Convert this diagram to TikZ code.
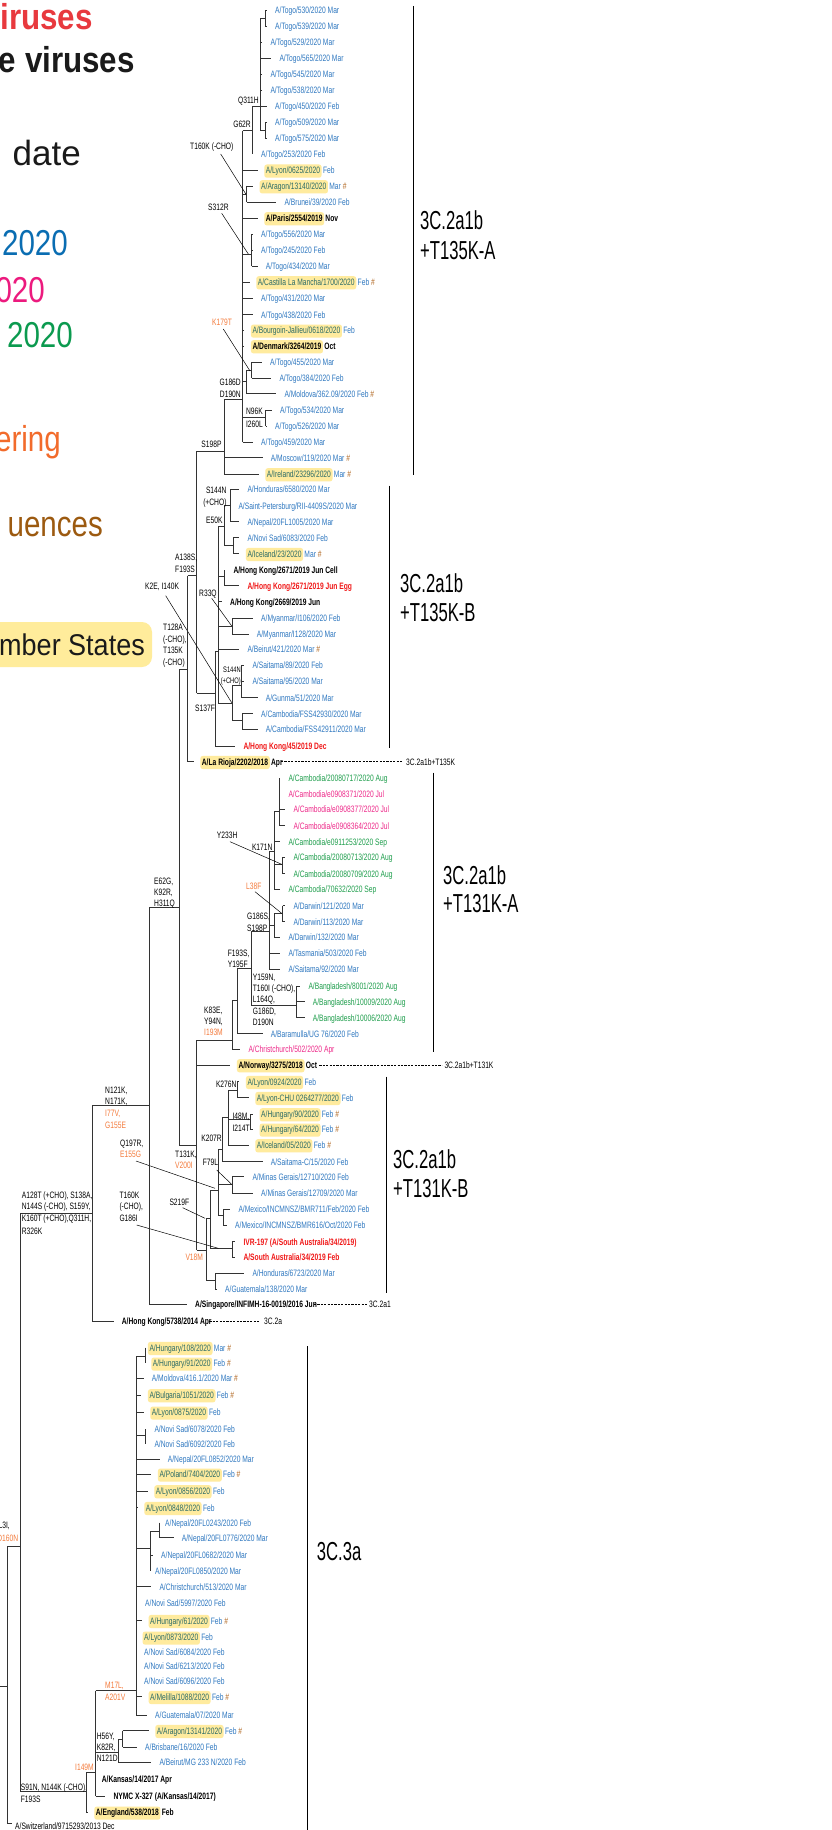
\documentclass[tikz,border=0pt]{standalone}
\usepackage{fontspec}
\setmainfont{Liberation Sans}
\newfontfamily\nar[FakeStretch=0.72]{Liberation Sans}
\newfontfamily\clf[FakeStretch=0.64]{Liberation Sans}
\newfontfamily\lgf[FakeStretch=0.82]{Liberation Sans}
\newfontfamily\lgb[FakeStretch=0.87]{Liberation Sans Bold}
\newfontfamily\lgs[FakeStretch=0.9]{Liberation Sans}
\definecolor{lblue}{HTML}{2F78C0}
\definecolor{lpink}{HTML}{EE2A8A}
\definecolor{lgreen}{HTML}{1E9E4C}
\definecolor{lred}{HTML}{F01818}
\definecolor{mor}{HTML}{F47B3C}
\definecolor{hashc}{HTML}{B0651E}
\definecolor{hly}{HTML}{FFEB9E}
\definecolor{hlc}{HTML}{2A6A66}
\definecolor{gred}{HTML}{E8393E}
\definecolor{gblue}{HTML}{0A6DB2}
\definecolor{gpink}{HTML}{EC1A7E}
\definecolor{ggreen}{HTML}{0B9A4F}
\definecolor{gorange}{HTML}{F26B2B}
\definecolor{gbrown}{HTML}{9C5A10}
\definecolor{gyel}{HTML}{FFEC9B}
\definecolor{gk}{HTML}{1A1A1A}
\newcommand\hs{\textcolor{hashc}{\#}}
\newcommand\OR[1]{\textcolor{mor}{#1}}
\tikzset{
 br/.style={draw=black!80,line width=0.75pt},
 cbar/.style={draw=black,line width=1.1pt},
 ptr/.style={draw=black,line width=0.5pt},
 dsh/.style={draw=black,line width=0.45pt,dash pattern=on 2.2pt off 1.2pt},
 lt/.style={inner sep=0pt,anchor=base west,font=\nar\fontsize{9.3}{11}\selectfont},
 ltb/.style={lt,font=\nar\bfseries\fontsize{9.3}{11}\selectfont},
 hlb/.style={fill=hly,rounded corners=2.5pt,inner xsep=1.6pt,inner ysep=2.2pt,text height=6.9pt,text depth=1.9pt},
 lg/.style={inner sep=0pt,anchor=base east,font=\lgf\fontsize{36}{40}\selectfont},
 lgbold/.style={inner sep=0pt,anchor=base east,font=\lgb\fontsize{36}{40}\selectfont},
 cl/.style={inner sep=0pt,anchor=base west,font=\clf\fontsize{26}{30}\selectfont},
}
\newcommand\hbr[3]{\draw[br] (#1,#3) -- (#2,#3);}
\newcommand\vbr[3]{\draw[br] (#1,#2) -- (#1,#3);}
\newcommand\lfline[3]{\pgfmathsetmacro\lfend{#3-8}\pgfmathtruncatemacro\lfok{\lfend>#1+1}\ifnum\lfok=1 \draw[br] (#1,#2) -- (\lfend,#2);\fi}
\newcommand\lf[5][lblue]{\lfline{#2}{#3}{#4}\node[lt,text=#1] at (#4,{#3+3.3}) {#5};}
\newcommand\hlf[5]{\lfline{#1}{#2}{#3}\node[lt,hlb,text=hlc] (hx) at ({#3-1.6},{#2+3.3}) {#4};\node[lt,text=lblue,inner xsep=1pt,anchor=base west] at (hx.base east) {#5};}
\newcommand\hlk[5]{\lfline{#1}{#2}{#3}\node[ltb,hlb,text=black] (hx) at ({#3-1.6},{#2+3.3}) {#4};\node[ltb,text=black,inner xsep=1pt,anchor=base west] at (hx.base east) {#5};}
\newcommand\mr[3]{\node[lt,anchor=base east] at (#1,{#2+3.3}) {#3};}
\newcommand\ml[3]{\node[lt] at (#1,{#2+3.3}) {#3};}
\begin{document}
\begin{tikzpicture}[x=1pt,y=-1pt]
\useasboundingbox (0,0) rectangle (832,1830);
\clip (0,0) rectangle (832,1830);
\fill[white] (0,0) rectangle (832,1830);
% ---------------- legend
\node[lgbold,text=gred] (lg1) at (93,29.3) {iruses};
\node[lgbold,text=gk] (lg2) at (135,72.7) {e viruses};
\node[inner sep=0pt,anchor=base east,font=\fontsize{35}{40}\selectfont,text=gk] (lg3) at (81,166) {date};
\node[lg,text=gblue] (lg4) at (68,255.7) {2020};
\node[lg,text=gpink] (lg5) at (45,302.3) {020};
\node[lg,text=ggreen] (lg6) at (73,347.3) {2020};
\node[lg,text=gorange] (lg7) at (61,451) {ering};
\node[lg,text=gbrown] (lg8) at (103,536) {uences};
\fill[gyel,rounded corners=10pt] (-30,622) rectangle (152,667);
\node[inner sep=0pt,anchor=base east,font=\lgs\fontsize{30}{36}\selectfont,text=gk] (lg9) at (145,655) {mber States};
% ---------------- clade bars
\draw[cbar] (413.3,6) -- (413.3,475);
\node[cl] (ca1) at (420,229.3) {3C.2a1b};
\node[cl] (ca2) at (420,259.3) {+T135K-A};
\draw[cbar] (389.3,485.7) -- (389.3,748.3);
\node[cl] (cb1) at (400,592.6) {3C.2a1b};
\node[cl] (cb2) at (400,621) {+T135K-B};
\draw[cbar] (433.3,772.7) -- (433.3,1051.7);
\node[cl] (cc1) at (443,884.3) {3C.2a1b};
\node[cl] (cc2) at (443,912.6) {+T131K-A};
\draw[cbar] (386.7,1076.7) -- (386.7,1292.7);
\node[cl] (cd1) at (393,1168.3) {3C.2a1b};
\node[cl] (cd2) at (393,1197.6) {+T131K-B};
\draw[cbar] (307.3,1346) -- (307.3,1832);
\node[cl] (ce1) at (316.7,1560) {3C.3a};
% ---------------- T135K-A
\vbr{265}{10.7}{26.3} \hbr{260}{265}{18.5}
\lf{265}{10.7}{275}{A/Togo/530/2020 Mar}
\lf{265}{26.3}{275}{A/Togo/539/2020 Mar}
\lf{260}{42.3}{270.3}{A/Togo/529/2020 Mar}
\lf{260}{58.3}{279.3}{A/Togo/565/2020 Mar}
\lf{260}{74}{270.3}{A/Togo/545/2020 Mar}
\lf{260}{90}{270.3}{A/Togo/538/2020 Mar}
\lf{260}{106.3}{275}{A/Togo/450/2020 Feb}
\vbr{265}{122.3}{138} \hbr{260}{265}{130}
\lf{265}{122.3}{275}{A/Togo/509/2020 Mar}
\lf{265}{138}{275}{A/Togo/575/2020 Mar}
\vbr{260}{18.5}{130}
\hbr{252}{260}{106.5} \mr{259}{100}{Q311H}
\vbr{252}{106.5}{154.3}
\lf{252}{154.3}{261}{A/Togo/253/2020 Feb}
\hbr{242.7}{252}{130.7} \mr{251}{124}{G62R}
\vbr{242.7}{130.7}{442}
\hlf{242.7}{170.3}{265.7}{A/Lyon/0625/2020}{Feb}
\vbr{246.7}{186}{202} \hbr{242.7}{246.7}{194}
\hlf{246.7}{186}{261}{A/Aragon/13140/2020}{Mar \hs}
\lf{246.7}{202}{284.3}{A/Brunei/39/2020 Feb}
\hlk{242.7}{218}{265.7}{A/Paris/2554/2019}{Nov}
\vbr{251.7}{234}{266} \hbr{242.7}{251.7}{254}
\lf{251.7}{234}{261}{A/Togo/556/2020 Mar}
\lf{251.7}{250.3}{261}{A/Togo/245/2020 Feb}
\lf{251.7}{266}{265.7}{A/Togo/434/2020 Mar}
\hlf{242.7}{282}{257.7}{A/Castilla La Mancha/1700/2020}{Feb \hs}
\lf{242.7}{298}{261}{A/Togo/431/2020 Mar}
\lf{242.7}{314.7}{261}{A/Togo/438/2020 Feb}
\hlf{242.7}{330.3}{252.3}{A/Bourgoin-Jallieu/0618/2020}{Feb}
\hlk{242.7}{346}{252.3}{A/Denmark/3264/2019}{Oct}
\vbr{246.7}{370}{393.7} \hbr{242.7}{246.7}{381}
\vbr{251.7}{362}{378.3} \hbr{246.7}{251.7}{370}
\lf{251.7}{362}{270}{A/Togo/455/2020 Mar}
\lf{251.7}{378.3}{279.3}{A/Togo/384/2020 Feb}
\lf{246.7}{393.7}{284.3}{A/Moldova/362.09/2020 Feb \hs}
\vbr{265.7}{410}{426} \hbr{242.7}{265.7}{417.3}
\lf{265.7}{410}{280}{A/Togo/534/2020 Mar}
\lf{265.7}{426}{275}{A/Togo/526/2020 Mar}
\mr{263}{411}{N96K} \mr{263}{424.3}{I260L}
\lf{242.7}{442}{261}{A/Togo/459/2020 Mar}
\hbr{224}{242.7}{399.3} \mr{241}{382.3}{G186D} \mr{241}{394.3}{D190N}
\vbr{224}{399.3}{474}
\lf{224}{457.7}{270.7}{A/Moscow/119/2020 Mar \hs}
\hlf{224}{474}{266.7}{A/Ireland/23296/2020}{Mar \hs}
\hbr{196.7}{224}{451} \mr{221.7}{444.3}{S198P}
\ml{190}{146}{T160K (-CHO)} \draw[ptr] (220.7,154) -- (246,194.3);
\ml{208}{207.3}{S312R} \draw[ptr] (221.7,213.3) -- (248.3,254);
\ml{212}{322.3}{\OR{K179T}} \draw[ptr] (223.3,329) -- (250,371);
% ---------------- T135K-B
\vbr{196.7}{451}{693.3}
\hbr{187.7}{196.7}{575.7} \ml{175}{557.3}{A138S,} \ml{175}{569}{F193S}
\hbr{196.7}{215}{693.3} \ml{195}{708.3}{S137F}
\vbr{215}{651.7}{746}
\lf[lred]{215}{746}{243.3}{\bfseries A/Hong Kong/45/2019 Dec}
\hbr{215}{218.3}{651.7}
\vbr{218.3}{526.7}{703.3}
\hbr{218.3}{224}{526.7} \mr{222.7}{520.3}{E50K}
\vbr{224}{505}{545}
\hbr{224}{230}{505} \mr{226.7}{490}{S144N} \mr{226.7}{501.7}{(+CHO)}
\vbr{230}{489.3}{521.7}
\lf{230}{489.3}{247.3}{A/Honduras/6580/2020 Mar}
\lf{230}{505.7}{238.3}{A/Saint-Petersburg/RII-4409S/2020 Mar}
\lf{230}{521.7}{247.3}{A/Nepal/20FL1005/2020 Mar}
\hbr{224}{233.3}{545} \vbr{233.3}{537.7}{553.7}
\lf{233.3}{537.7}{247.3}{A/Novi Sad/6083/2020 Feb}
\hlf{233.3}{553.7}{247.3}{A/Iceland/23/2020}{Mar \hs}
\hbr{218.3}{224}{576.7} \vbr{224}{570}{585.7}
\lf[black]{224}{570}{233.3}{\bfseries A/Hong Kong/2671/2019 Jun Cell}
\lf[lred]{224}{585.7}{247.3}{\bfseries A/Hong Kong/2671/2019 Jun Egg}
\lf[black]{218.3}{601.7}{230}{\bfseries A/Hong Kong/2669/2019 Jun}
\hbr{218.3}{232.3}{626} \vbr{232.3}{618.3}{634}
\lf{232.3}{618.3}{261}{A/Myanmar/I106/2020 Feb}
\lf{232.3}{634}{256.7}{A/Myanmar/I128/2020 Mar}
\lf{218.3}{649.3}{247.3}{A/Beirut/421/2020 Mar \hs}
\hbr{218.3}{232.3}{703.3} \vbr{232.3}{685.7}{720.7}
\hbr{232.3}{241.7}{685.7} \vbr{241.7}{665.3}{697.7}
\node[lt,anchor=base east,font=\nar\fontsize{8}{10}\selectfont] (s144a) at (241,672.3) {S144N};
\node[lt,anchor=base east,font=\nar\fontsize{8}{10}\selectfont] (s144b) at (241,683) {(+CHO)};
\lf{241.7}{665.3}{252.3}{A/Saitama/89/2020 Feb}
\lf{241.7}{681.3}{252.3}{A/Saitama/95/2020 Mar}
\lf{241.7}{697.7}{265.7}{A/Gunma/51/2020 Mar}
\hbr{232.3}{242.3}{720.7} \vbr{242.3}{713.7}{729.3}
\lf{242.3}{713.7}{261}{A/Cambodia/FSS42930/2020 Mar}
\lf{242.3}{729.3}{265.7}{A/Cambodia/FSS42911/2020 Mar}
\ml{199}{593.3}{R33Q} \draw[ptr] (211.7,598.3) -- (231.7,626);
\ml{145}{585.7}{K2E, I140K} \draw[ptr] (165.7,595.7) -- (231.7,702.7);
\vbr{187.7}{575.7}{761.7}
\hlk{187.7}{761.7}{201.7}{A/La Rioja/2202/2018}{Apr}
\draw[dsh] (281,761.7) -- (403.3,761.7); \ml{406}{761.7}{3C.2a1b+T135K}
\hbr{179}{187.7}{669.3}
\ml{163}{626.7}{T128A} \ml{163}{639}{(-CHO),} \ml{163}{650}{T135K} \ml{163}{662.2}{(-CHO)}
\vbr{179}{669.3}{1145}
\hbr{149}{179}{907.7} \ml{154}{881}{E62G,} \ml{154}{892.3}{K92R,} \ml{154}{903.3}{H311Q}
% ---------------- T131K-A
\hbr{179}{196.7}{1145} \ml{175}{1154.3}{T131K,} \ml{175}{1165}{\OR{V200I}}
\vbr{196.7}{1040}{1250}
\hbr{196.7}{232.3}{1040} \ml{204}{1010}{K83E,} \ml{204}{1021}{Y94N,} \ml{204}{1032}{\OR{I193M}}
\vbr{232.3}{1000.7}{1049}
\lf[lpink]{232.3}{1049}{248.3}{A/Christchurch/502/2020 Apr}
\hbr{232.3}{237.7}{1000.7}
\vbr{237.7}{968.3}{1033.7}
\lf{237.7}{1033.7}{270.7}{A/Baramulla/UG 76/2020 Feb}
\hbr{237.7}{251}{968.3} \ml{227.7}{952.7}{F193S,} \ml{227.7}{964.3}{Y195F}
\vbr{251}{931.7}{1005}
\hbr{251}{296.7}{1005}
\ml{252.7}{976.7}{Y159N,} \ml{252.7}{987.7}{T160I (-CHO),} \ml{252.7}{999}{L164Q,} \ml{252.7}{1010.7}{G186D,} \ml{252.7}{1021.7}{D190N}
\vbr{296.7}{986}{1017.7}
\lf[lgreen]{296.7}{986}{308.3}{A/Bangladesh/8001/2020 Aug}
\lf[lgreen]{296.7}{1001.7}{312.7}{A/Bangladesh/10009/2020 Aug}
\lf[lgreen]{296.7}{1017.7}{312.7}{A/Bangladesh/10006/2020 Aug}
\hbr{251}{269.3}{931.7} \ml{247}{916}{G186S,} \ml{247}{927.7}{S198P}
\vbr{269.3}{851.7}{969.3}
\lf{269.3}{953.3}{288.3}{A/Tasmania/503/2020 Feb}
\lf{269.3}{969.3}{288.3}{A/Saitama/92/2020 Mar}
\hbr{269.3}{274}{925} \vbr{274}{913.3}{937.3}
\hbr{274}{282.7}{913.3} \vbr{282.7}{905.7}{921.7}
\lf{282.7}{905.7}{293.3}{A/Darwin/121/2020 Mar}
\lf{282.7}{921.7}{293.3}{A/Darwin/113/2020 Mar}
\lf{274}{937.3}{288.3}{A/Darwin/132/2020 Mar}
\ml{246}{885.7}{\OR{L38F}} \draw[ptr] (255,891.7) -- (281.7,913.3);
\hbr{269.3}{274}{851.7} \mr{272.7}{846.7}{K171N}
\vbr{274}{811.7}{889.3}
\hbr{274}{279}{811.7} \vbr{279}{778.3}{825.7}
\lf[lgreen]{279}{778.3}{288.3}{A/Cambodia/20080717/2020 Aug}
\lf[lpink]{279}{794}{288.3}{A/Cambodia/e0908371/2020 Jul}
\lf[lpink]{279}{809.3}{293.3}{A/Cambodia/e0908377/2020 Jul}
\lf[lpink]{279}{825.7}{293.3}{A/Cambodia/e0908364/2020 Jul}
\lf[lgreen]{274}{841.7}{288.3}{A/Cambodia/e0911253/2020 Sep}
\hbr{274}{282.7}{864.3} \vbr{282.7}{857.3}{873.7}
\lf[lgreen]{282.7}{857.3}{293.3}{A/Cambodia/20080713/2020 Aug}
\lf[lgreen]{282.7}{873.7}{293.3}{A/Cambodia/20080709/2020 Aug}
\lf[lgreen]{274}{889.3}{288.3}{A/Cambodia/70632/2020 Sep}
\ml{216.7}{835}{Y233H} \draw[ptr] (230,841.7) -- (281.7,864.3);
\hlk{196.7}{1065}{238.3}{A/Norway/3275/2018}{Oct}
\draw[dsh] (319.3,1065) -- (441.7,1065); \ml{444.3}{1065}{3C.2a1b+T131K}
% ---------------- T131K-B
\hbr{196.7}{206}{1250} \ml{185.3}{1257.3}{\OR{V18M}}
\vbr{206}{1218.3}{1280}
\hbr{206}{215}{1280} \vbr{215}{1273.3}{1289.3}
\lf{215}{1273.3}{252.3}{A/Honduras/6723/2020 Mar}
\lf{215}{1289.3}{225}{A/Guatemala/138/2020 Mar}
\hbr{206}{210}{1218.3} \vbr{210}{1190}{1248.3}
\hbr{210}{232.3}{1248.3} \vbr{232.3}{1241.7}{1257.3}
\lf[lred]{232.3}{1241.7}{243.3}{\bfseries IVR-197 (A/South Australia/34/2019)}
\lf[lred]{232.3}{1257.3}{243.3}{\bfseries A/South Australia/34/2019 Feb}
\hbr{210}{218.3}{1190} \vbr{218.3}{1149}{1215}
\hbr{218.3}{223.3}{1215} \vbr{223.3}{1209.3}{1225}
\lf{223.3}{1209.3}{238.3}{A/Mexico/INCMNSZ/BMR711/Feb/2020 Feb}
\lf{223.3}{1225}{235}{A/Mexico/INCMNSZ/BMR616/Oct/2020 Feb}
\hbr{218.3}{232.3}{1184.3} \vbr{232.3}{1176.7}{1193.3}
\lf{232.3}{1176.7}{252.3}{A/Minas Gerais/12710/2020 Feb}
\lf{232.3}{1193.3}{261}{A/Minas Gerais/12709/2020 Mar}
\hbr{218.3}{222.7}{1149} \vbr{222.7}{1117}{1161.7}
\lf{222.7}{1161.7}{270.7}{A/Saitama-C/15/2020 Feb}
\mr{222}{1137.7}{K207R}
\hbr{222.7}{228.3}{1117} \vbr{228.3}{1090}{1145}
\hlf{228.3}{1145}{256.7}{A/Iceland/05/2020}{Feb \hs}
\hbr{228.3}{250}{1119.3} \vbr{250}{1114}{1129.3}
\hlf{250}{1114}{261}{A/Hungary/90/2020}{Feb \hs}
\hlf{250}{1129.3}{261}{A/Hungary/64/2020}{Feb \hs}
\ml{232.3}{1115.7}{I48M,} \ml{232.3}{1128.3}{I214T}
\hbr{228.3}{237.3}{1090} \vbr{237.3}{1081.7}{1097.7}
\hlf{237.3}{1081.7}{247.3}{A/Lyon/0924/2020}{Feb}
\hlf{237.3}{1097.7}{256.7}{A/Lyon-CHU 0264277/2020}{Feb}
\mr{236.7}{1084}{K276N}
\ml{202.7}{1162.3}{F79L} \draw[ptr] (216.7,1170) -- (231.7,1184.3);
\ml{120}{1143.3}{Q197R,} \ml{120}{1154.3}{\OR{E155G}} \draw[ptr] (136,1161) -- (215,1188.3);
\ml{169.3}{1201.7}{S219F} \draw[ptr] (182.7,1207.7) -- (205,1218.3);
\ml{119.3}{1195}{T160K} \ml{119.3}{1206}{(-CHO),} \ml{119.3}{1218.3}{G186I} \draw[ptr] (136.7,1225) -- (218.3,1248.3);
% ---------------- 3C.2a backbone
\vbr{149}{907.7}{1304.3}
\lf[black]{149}{1304.3}{195}{\bfseries A/Singapore/INFIMH-16-0019/2016 Jun}
\draw[dsh] (314,1304.3) -- (366.7,1304.3); \ml{369}{1304.3}{3C.2a1}
\hbr{92.3}{149}{1105.7}
\ml{105}{1090}{N121K,} \ml{105}{1101}{N171K,} \ml{105}{1113.3}{\OR{I77V,}} \ml{105}{1125}{\OR{G155E}}
\vbr{92.3}{1105.7}{1321}
\lf[black]{92.3}{1321}{121.7}{\bfseries A/Hong Kong/5738/2014 Apr}
\draw[dsh] (209.3,1321) -- (260,1321); \ml{264}{1321}{3C.2a}
\hbr{20}{92.3}{1213.3}
\ml{21.7}{1195}{A128T (+CHO), S138A,} \ml{21.7}{1206}{N144S (-CHO), S159Y,} \ml{21.7}{1218.6}{K160T (+CHO),Q311H,} \ml{21.7}{1230.7}{R326K}
\vbr{20}{1213.3}{1791.7}
\hbr{7}{20}{1546.7} \mr{10}{1525}{L3I,} \mr{18.3}{1537.7}{\OR{D160N}}
\vbr{7}{1546.7}{1823} \hbr{0}{7}{1686} \hbr{7}{12}{1823}
\ml{15}{1826}{A/Switzerland/9715293/2013 Dec}
% ---------------- 3C.3a
\hbr{20}{86}{1791.7} \ml{20.7}{1786.7}{S91N, N144K (-CHO),} \ml{20.7}{1799.3}{F193S}
\vbr{86}{1772.7}{1812.3}
\hlk{86}{1812.3}{95.7}{A/England/538/2018}{Feb}
\hbr{86}{95.7}{1772.7} \mr{94}{1766.7}{\OR{I149M}}
\vbr{95.7}{1690.7}{1796}
\lf[black]{95.7}{1779.3}{101.7}{\bfseries A/Kansas/14/2017 Apr}
\lf[black]{95.7}{1796}{113.3}{\bfseries NYMC X-327 (A/Kansas/14/2017)}
\hbr{95.7}{118.3}{1752.3} \ml{96.7}{1735.7}{H56Y,} \ml{96.7}{1747.2}{K82R,} \ml{96.7}{1758.3}{N121D}
\vbr{118.3}{1739.3}{1762}
\hbr{118.3}{122.7}{1739.3} \vbr{122.7}{1730.7}{1747.3}
\hlf{122.7}{1730.7}{156.7}{A/Aragon/13141/2020}{Feb \hs}
\lf{122.7}{1747.3}{145}{A/Brisbane/16/2020 Feb}
\lf{118.3}{1762}{159.3}{A/Beirut/MG 233 N/2020 Feb}
\hbr{95.7}{136}{1690.7} \ml{105}{1685.5}{\OR{M17L,}} \ml{105}{1697.5}{\OR{A201V}}
\vbr{136}{1356.7}{1715}
\hbr{136}{145.7}{1356.7} \vbr{145.7}{1347.7}{1363.3}
\hlf{145.7}{1347.7}{149.3}{A/Hungary/108/2020}{Mar \hs}
\hlf{145.7}{1363.3}{152.7}{A/Hungary/91/2020}{Feb \hs}
\lf{136}{1378.3}{151.7}{A/Moldova/416.1/2020 Mar \hs}
\hlf{136}{1395}{149.3}{A/Bulgaria/1051/2020}{Feb \hs}
\hlf{136}{1412.3}{151.7}{A/Lyon/0875/2020}{Feb}
\hbr{136}{145.7}{1435.7} \vbr{145.7}{1429}{1443.7}
\lf{145.7}{1429}{154.3}{A/Novi Sad/6078/2020 Feb}
\lf{145.7}{1443.7}{154.3}{A/Novi Sad/6092/2020 Feb}
\lf{136}{1459.3}{167.7}{A/Nepal/20FL0852/2020 Mar}
\hlf{136}{1474.3}{159.3}{A/Poland/7404/2020}{Feb \hs}
\hlf{136}{1491}{155.7}{A/Lyon/0856/2020}{Feb}
\hlf{136}{1507.7}{145.7}{A/Lyon/0848/2020}{Feb}
\hbr{136}{150}{1548.3} \vbr{150}{1531.7}{1570.7}
\hbr{150}{159.3}{1531.7} \vbr{159.3}{1522.7}{1537.7}
\lf{159.3}{1522.7}{165}{A/Nepal/20FL0243/2020 Feb}
\lf{159.3}{1537.7}{181.7}{A/Nepal/20FL0776/2020 Mar}
\lf{150}{1555}{161}{A/Nepal/20FL0682/2020 Mar}
\lf{150}{1570.7}{155}{A/Nepal/20FL0850/2020 Mar}
\lf{136}{1586.7}{159.3}{A/Christchurch/513/2020 Mar}
\lf{136}{1602.7}{145}{A/Novi Sad/5997/2020 Feb}
\hlf{136}{1620.7}{150}{A/Hungary/61/2020}{Feb \hs}
\hlf{136}{1637.3}{144}{A/Lyon/0873/2020}{Feb}
\lf{136}{1651.7}{144}{A/Novi Sad/6084/2020 Feb}
\lf{136}{1666}{144}{A/Novi Sad/6213/2020 Feb}
\lf{136}{1680.7}{144}{A/Novi Sad/6096/2020 Feb}
\hlf{136}{1696.7}{150}{A/Melilla/1088/2020}{Feb \hs}
\lf{136}{1715}{155}{A/Guatemala/07/2020 Mar}
\end{tikzpicture}
\end{document}
